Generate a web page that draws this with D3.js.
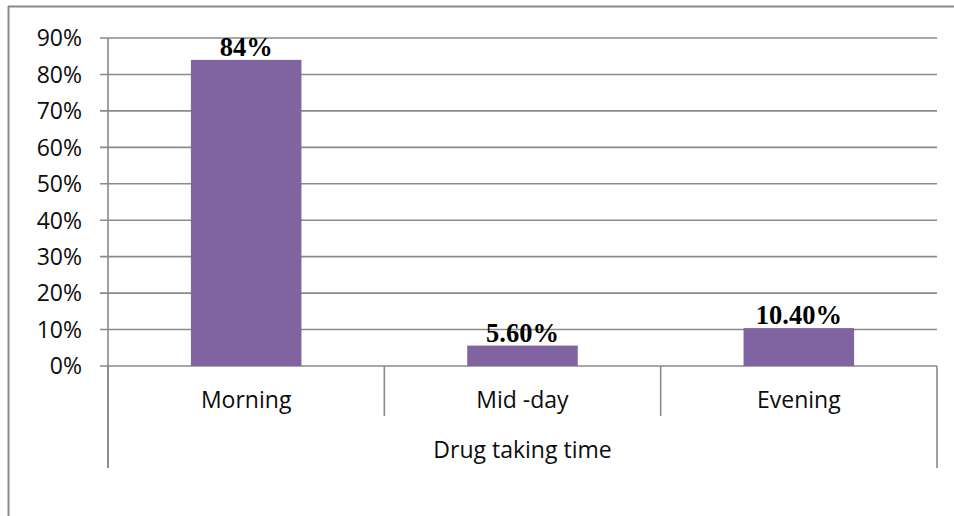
<!DOCTYPE html>
<html><head><meta charset="utf-8">
<script src="https://cdn.jsdelivr.net/npm/d3@7"></script>
<style>body{margin:0;background:#fff}svg{display:block}</style>
</head><body>
<svg id="c" width="954" height="516"></svg>
<script>
const categories = ["Morning", "Mid -day", "Evening"];
const values = [0.84, 0.056, 0.104];
const valueLabels = ["84%", "5.60%", "10.40%"];
const tickValues = [0, 0.1, 0.2, 0.3, 0.4, 0.5, 0.6, 0.7, 0.8, 0.9];
const axisTitle = "Drug taking time";

const svg = d3.select("#c");
const L = 108, R = 937, T = 38, B = 366;
const y = d3.scaleLinear().domain([0, 0.9]).range([B, T]);
const x = d3.scaleBand().domain(categories).range([L, R]).paddingInner(0.6).paddingOuter(0.3);
const cell = d3.scaleBand().domain(categories).range([L, R]).padding(0);
const grey = "#8a8a8a";
const sans = "'Open Sans', 'Noto Sans', sans-serif";

// outer frame (top + left)
svg.append("line").attr("x1", 8).attr("x2", 954).attr("y1", 6.5).attr("y2", 6.5).attr("stroke", grey).attr("stroke-width", 2);
svg.append("line").attr("x1", 8.5).attr("x2", 8.5).attr("y1", 6).attr("y2", 516).attr("stroke", grey).attr("stroke-width", 2);

// gridlines + tick labels
const g = svg.append("g");
g.selectAll("line.grid").data(tickValues).join("line")
  .attr("x1", L - 8).attr("x2", R).attr("y1", d => y(d)).attr("y2", d => y(d))
  .attr("stroke", grey).attr("stroke-width", 1.6);
g.selectAll("text.tick").data(tickValues).join("text")
  .attr("x", 82).attr("y", d => y(d)).attr("dy", "0.36em")
  .attr("text-anchor", "end").attr("font-family", sans).attr("font-size", 23).attr("fill", "#0d0d0d")
  .text(d3.format(".0%"));

// y axis line
svg.append("line").attr("x1", L).attr("x2", L).attr("y1", T).attr("y2", 468).attr("stroke", grey).attr("stroke-width", 1.6);

// category separators
const seps = categories.map(c => cell(c)).concat([R]);
svg.selectAll("line.sep").data(seps).join("line")
  .attr("x1", d => d).attr("x2", d => d).attr("y1", B)
  .attr("y2", (d, i) => (i === 0 || i === seps.length - 1) ? 468 : 416)
  .attr("stroke", grey).attr("stroke-width", 1.6);

// bars
svg.selectAll("rect.bar").data(categories).join("rect")
  .attr("x", c => x(c)).attr("width", x.bandwidth())
  .attr("y", (c, i) => y(values[i])).attr("height", (c, i) => B - y(values[i]))
  .attr("fill", "#8064a2");

// value labels
svg.selectAll("text.val").data(categories).join("text")
  .attr("x", c => x(c) + x.bandwidth() / 2).attr("y", (c, i) => y(values[i]) - 4)
  .attr("text-anchor", "middle").attr("font-family", "'Liberation Serif', 'Times New Roman', serif")
  .attr("font-weight", "bold").attr("font-size", 26.5).attr("fill", "#000")
  .text((c, i) => valueLabels[i]);

// category labels
svg.selectAll("text.cat").data(categories).join("text")
  .attr("x", c => cell(c) + cell.bandwidth() / 2).attr("y", 400).attr("dy", "0.36em")
  .attr("text-anchor", "middle").attr("font-family", sans).attr("font-size", 23).attr("fill", "#0d0d0d")
  .text(c => c);

// axis title
svg.append("text").attr("x", (L + R) / 2).attr("y", 450).attr("dy", "0.36em")
  .attr("text-anchor", "middle").attr("font-family", sans).attr("font-size", 23).attr("fill", "#0d0d0d")
  .text(axisTitle);
</script>
</body></html>
